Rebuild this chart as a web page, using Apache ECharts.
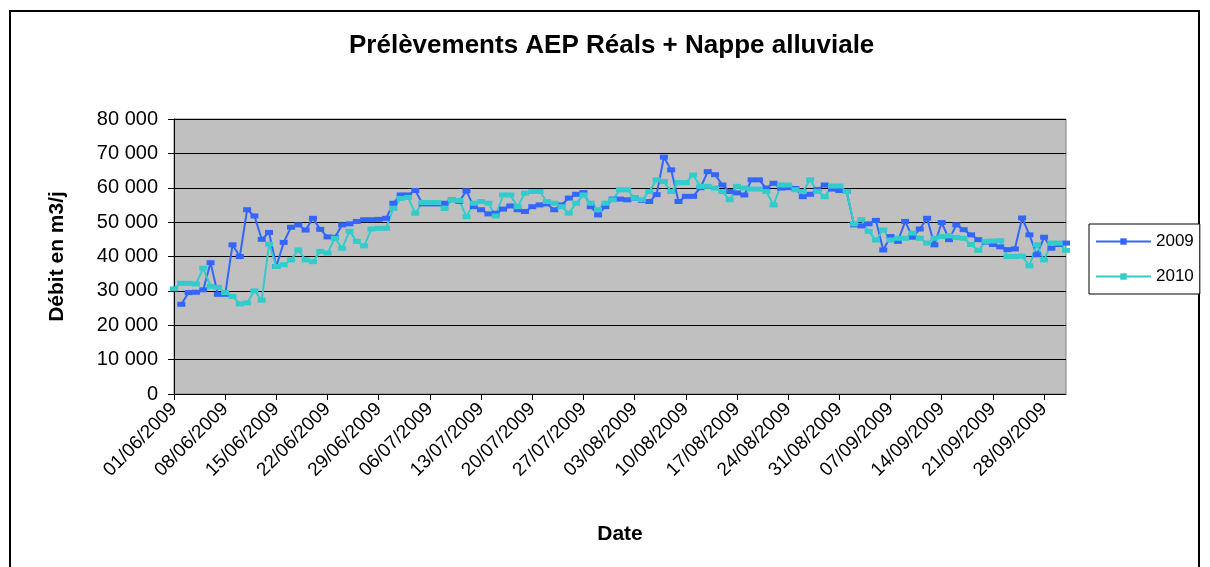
<!DOCTYPE html>
<html>
<head>
<meta charset="utf-8">
<script src="https://cdn.jsdelivr.net/npm/echarts@6/dist/echarts.min.js"></script>
<style>
  html, body { margin: 0; padding: 0; background: #fff; }
  #chart { width: 1210px; height: 567px; }
</style>
</head>
<body>
<div id="chart"></div>
<script>
// dates du 01/06/2009 au 01/10/2009 (une valeur par jour)
var startDate = new Date(2009, 5, 1);
var nbDays = 123;
var dates = [];
for (var i = 0; i < nbDays; i++) {
    var d = new Date(startDate.getTime() + i * 86400000);
    var dd = ('0' + d.getDate()).slice(-2);
    var mm = ('0' + (d.getMonth() + 1)).slice(-2);
    dates.push(dd + '/' + mm + '/' + d.getFullYear());
}

var seriesNames = ['2009', '2010'];

// débits relevés (m3/j)
var debit2009 = [
    null, 26100, 29500, 29600, 30300, 38200, 29000, 29000, 43400, 40000,
    53600, 51800, 45000, 47000, 37100, 44100, 48500, 49200, 47700, 51100,
    47900, 45700, 45600, 49200, 49500, 50200, 50700, 50700, 50800, 51100,
    55500, 57900, 57900, 59200, 55300, 55300, 55300, 55500, 56500, 56000,
    59100, 54500, 53600, 52400, 52600, 53800, 54700, 53600, 53100, 54500,
    55000, 55300, 53600, 55000, 57000, 58100, 58600, 54500, 52100, 54500,
    56700, 56700, 56500, 57000, 56300, 56000, 58000, 68900, 65200, 56000,
    57500, 57500, 60000, 64700, 63800, 60800, 58900, 58500, 57900, 62300,
    62300, 59900, 61300, 59900, 60000, 59800, 57400, 58100, 59500, 60800,
    59600, 59200, 58900, 49200, 48900, 49500, 50500, 41900, 45800, 44400,
    50200, 45600, 48000, 51100, 43400, 49900, 44900, 49200, 47800, 46300,
    44900, 44200, 43500, 42800, 42000, 42200, 51200, 46300, 40500, 45600,
    42400, 43500, 43900
];
var debit2010 = [
    30600, 32200, 32200, 32000, 36600, 31300, 31000, 29500, 28400, 26200,
    26500, 30000, 27300, 43600, 37100, 37600, 39000, 41900, 39000, 38500,
    41500, 41000, 45300, 42400, 47300, 44400, 43100, 48000, 48200, 48200,
    54000, 56900, 57200, 52600, 55700, 55700, 55700, 54000, 56500, 56300,
    51600, 55500, 56000, 55500, 51800, 57900, 57900, 54500, 58400, 58900,
    58900, 56000, 55500, 54500, 52600, 55500, 57900, 55500, 53600, 55500,
    56500, 59400, 59400, 57000, 56500, 58900, 62300, 61800, 58900, 61500,
    61500, 63700, 60400, 60400, 59900, 58900, 56500, 60400, 59900, 59600,
    59600, 58900, 55000, 60800, 60800, 59400, 58900, 62300, 58900, 57400,
    60500, 60500, 58900, 49500, 50700, 47300, 44800, 47700, 44800, 45300,
    45300, 46800, 45300, 43900, 45300, 45800, 46000, 45500, 45300, 43500,
    41800, 44400, 44500, 44600, 40000, 40000, 40100, 37300, 43400, 39000,
    43900, 43900, 41800
];

var couleurs = ['#3366FF', '#33CCCC'];
var police = 'Liberation Sans, Arial, sans-serif';

var chart = echarts.init(document.getElementById('chart'));

// format "80 000"
function formatMilliers(v) {
    if (v === 0) return '0';
    return (v / 1000) + ' 000';
}

function serie(nom, data, couleur) {
    return {
        name: nom,
        type: 'line',
        data: data,
        symbol: 'rect',
        symbolSize: [8, 5],
        showAllSymbol: true,
        lineStyle: { width: 2, color: couleur },
        itemStyle: { color: couleur },
        emphasis: { disabled: true }
    };
}

var option = {
    animation: false,
    backgroundColor: '#ffffff',
    textStyle: { fontFamily: police },
    title: {
        text: 'Prélèvements AEP Réals + Nappe alluviale',
        left: 349,
        top: 33,
        padding: 0,
        textStyle: { fontSize: 26, fontWeight: 'bold', color: '#000', fontFamily: police }
    },
    graphic: [{
        // cadre de la zone du graphique
        type: 'rect',
        shape: { x: 10, y: 11, width: 1189, height: 620 },
        style: { fill: 'none', stroke: '#000', lineWidth: 2 },
        silent: true
    }],
    legend: {
        orient: 'vertical',
        left: 1089,
        top: 224,
        padding: [9, 6, 9, 6],
        itemGap: 18,
        itemWidth: 55,
        itemHeight: 8,
        borderColor: '#000',
        borderWidth: 1,
        backgroundColor: '#fff',
        textStyle: { fontSize: 17, color: '#000', fontFamily: police },
        data: seriesNames
    },
    grid: {
        left: 174,
        right: 144,
        top: 119,
        bottom: 173,
        show: true,
        backgroundColor: '#C0C0C0',
        borderColor: '#808080',
        borderWidth: 1
    },
    xAxis: {
        type: 'category',
        data: dates,
        boundaryGap: false,
        name: 'Date',
        nameLocation: 'middle',
        nameGap: 130,
        nameTextStyle: { fontSize: 21, fontWeight: 'bold', color: '#000', fontFamily: police },
        axisLine: { lineStyle: { color: '#000', width: 1 } },
        axisTick: { interval: 6, length: 6, lineStyle: { color: '#000' } },
        axisLabel: { interval: 6, rotate: 45, fontSize: 19, color: '#000', margin: 12, fontFamily: police },
        splitLine: { show: false }
    },
    yAxis: {
        type: 'value',
        min: 0,
        max: 80000,
        interval: 10000,
        name: 'Débit en m3/j',
        nameLocation: 'middle',
        nameRotate: 90,
        nameGap: 106,
        nameTextStyle: { fontSize: 21, fontWeight: 'bold', color: '#000', fontFamily: police },
        axisLine: { show: true, lineStyle: { color: '#000', width: 1 } },
        axisTick: { show: true, length: 6, lineStyle: { color: '#000' } },
        axisLabel: { fontSize: 20, color: '#000', margin: 16, formatter: formatMilliers, fontFamily: police },
        splitLine: { show: true, lineStyle: { color: '#000', width: 1 } }
    },
    series: [
        serie(seriesNames[0], debit2009, couleurs[0]),
        serie(seriesNames[1], debit2010, couleurs[1])
    ]
};

chart.setOption(option);
</script>
</body>
</html>
